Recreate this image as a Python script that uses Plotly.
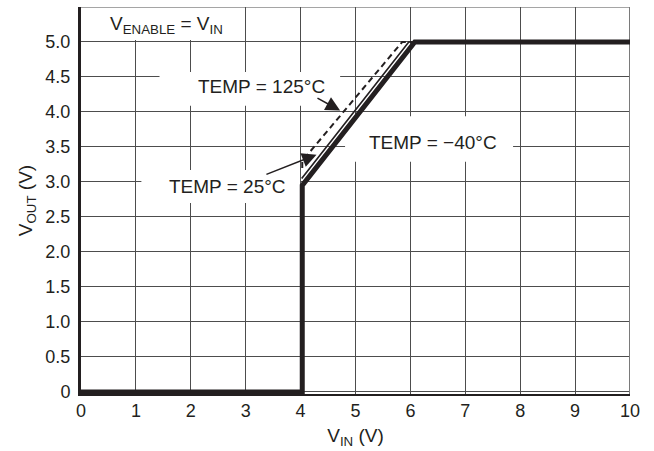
import plotly.graph_objects as go

# Output voltage vs input voltage for three temperatures (V)
vin_m40 = [0, 4.03, 4.03, 6.08, 10]
vout_m40 = [0, 0, 2.95, 5.0, 5.0]

vin_25 = [4.02, 5.97, 10]
vout_25 = [3.05, 5.0, 5.0]

vin_125 = [4.03, 4.03, 5.85, 10]
vout_125 = [3.20, 3.30, 5.0, 5.0]

x_ticks = list(range(0, 11))
y_ticks = [0, 0.5, 1.0, 1.5, 2.0, 2.5, 3.0, 3.5, 4.0, 4.5, 5.0, 5.5]
y_tick_text = ["0", "0.5", "1.0", "1.5", "2.0", "2.5", "3.0", "3.5", "4.0", "4.5", "5.0", "5.5"]

INK = "#231f20"
GRID = "#4d4d4d"
FONT = "Liberation Sans, Arial, Helvetica, sans-serif"

fig = go.Figure()
fig.add_trace(go.Scatter(x=vin_m40, y=vout_m40, mode="lines",
                         line=dict(color=INK, width=5), name="-40°C"))
fig.add_trace(go.Scatter(x=vin_25, y=vout_25, mode="lines",
                         line=dict(color=INK, width=1.7), name="25°C"))
fig.add_trace(go.Scatter(x=vin_125, y=vout_125, mode="lines",
                         line=dict(color=INK, width=2, dash="6px,4px"), name="125°C"))

# white label backgrounds that break the grid
boxes = [
    (0.0, 2.9, 5.03, 5.5),
    (1.43, 4.72, 4.09, 4.57),
    (1.1, 3.99, 2.70, 3.17),
    (4.81, 7.87, 3.29, 3.94),
]
shapes = []
for x0, x1, y0, y1 in boxes:
    shapes.append(dict(type="rect", xref="x", yref="y", x0=x0, x1=x1, y0=y0, y1=y1,
                       fillcolor="white", line=dict(width=0), layer="between"))
# plot frame: top and right edges
shapes.append(dict(type="line", xref="x", yref="y", x0=0, x1=10, y0=5.5, y1=5.5,
                   line=dict(color=GRID, width=1.2), layer="between"))
shapes.append(dict(type="line", xref="x", yref="y", x0=10, x1=10, y0=-0.03, y1=5.5,
                   line=dict(color="#7a7a7a", width=2), layer="between"))

lab_font = dict(family=FONT, size=19, color=INK)
annotations = [
    dict(x=1.56, y=5.24, text="V<sub>ENABLE</sub> = V<sub>IN</sub>", showarrow=False, font=lab_font),
    dict(x=3.28, y=4.36, text="TEMP = 125°C", showarrow=False, font=lab_font),
    dict(x=2.66, y=2.94, text="TEMP = 25°C", showarrow=False, font=lab_font),
    dict(x=6.42, y=3.56, text="TEMP = −40°C", showarrow=False, font=lab_font),
    dict(x=4.72, y=4.02, ax=4.28, ay=4.21, axref="x", ayref="y", text="",
         showarrow=True, arrowhead=2, arrowsize=1.8, arrowwidth=1.6, arrowcolor=INK),
    dict(x=4.29, y=3.39, ax=3.35, ay=3.10, axref="x", ayref="y", text="",
         showarrow=True, arrowhead=2, arrowsize=1.8, arrowwidth=1.6, arrowcolor=INK),
]

tick_font = dict(family=FONT, size=18, color=INK)
fig.update_layout(
    width=654, height=451,
    margin=dict(l=81, r=24, t=7, b=57),
    paper_bgcolor="white", plot_bgcolor="white",
    showlegend=False,
    shapes=shapes,
    annotations=annotations,
    xaxis=dict(range=[0, 10], tickvals=x_ticks, showgrid=True, gridcolor=GRID, gridwidth=1,
               zeroline=False, showline=True, linecolor=INK, linewidth=1.5, ticks="",
               tickfont=tick_font, ticklabelstandoff=0,
               title=dict(text="V<sub>IN</sub> (V)", font=dict(family=FONT, size=19, color=INK),
                          standoff=8)),
    yaxis=dict(range=[-0.03, 5.5], tickvals=y_ticks, ticktext=y_tick_text, showgrid=True,
               gridcolor=GRID, gridwidth=1, zeroline=False, showline=True, linecolor=INK,
               linewidth=3, ticks="", tickfont=tick_font, ticklabelstandoff=4,
               title=dict(text="V<sub>OUT</sub> (V)", font=dict(family=FONT, size=19, color=INK),
                          standoff=8)),
)

fig.write_html("out.html")
